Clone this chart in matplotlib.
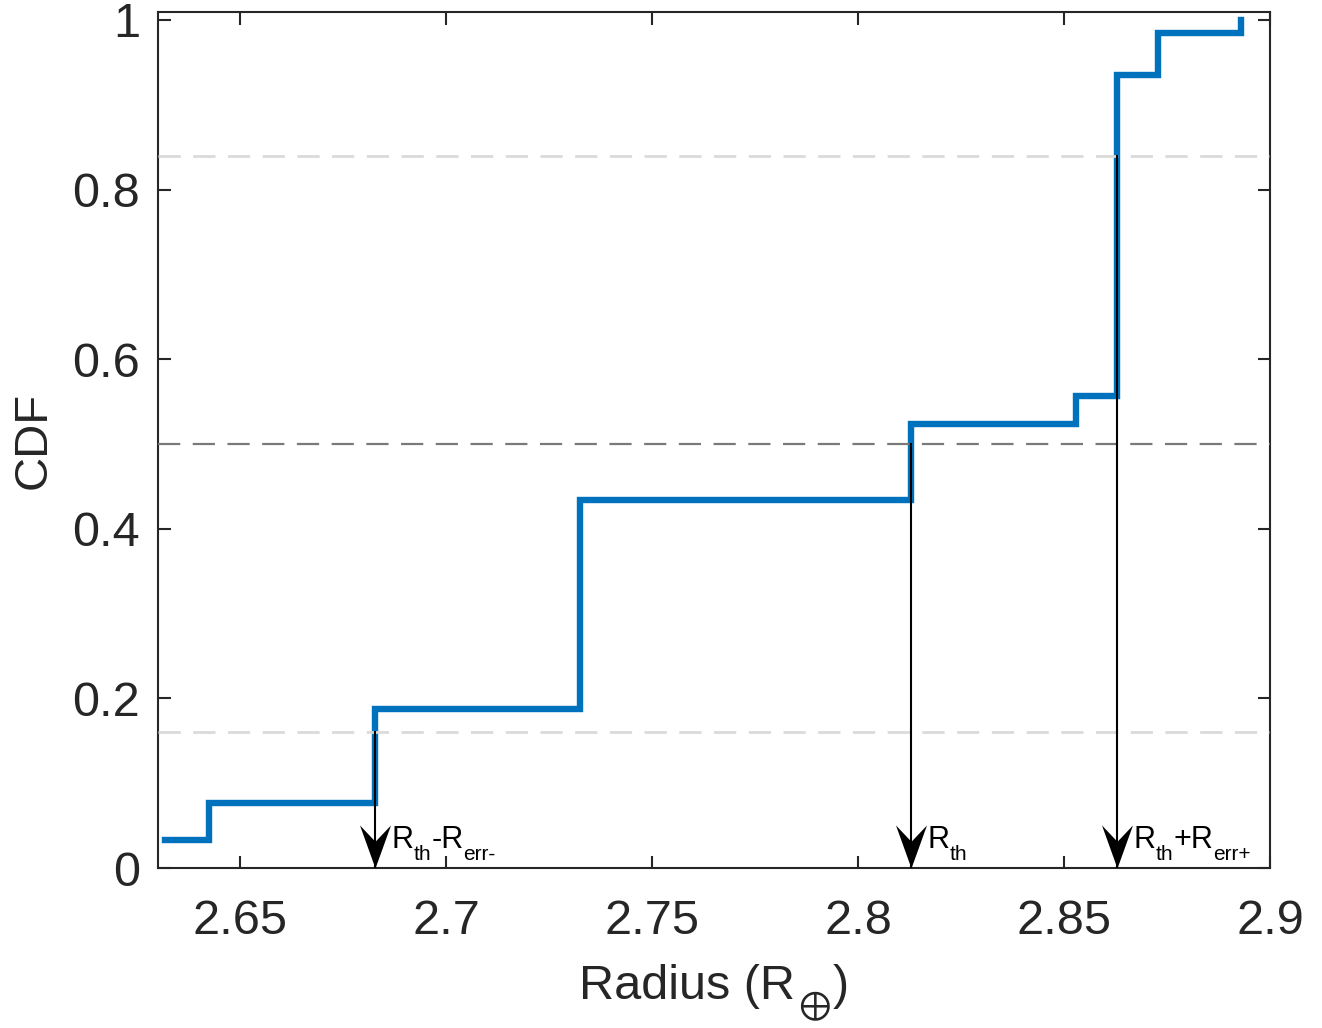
import numpy as np
import matplotlib
matplotlib.use("Agg")
import matplotlib.pyplot as plt
from matplotlib.path import Path

plt.rcParams['font.family'] = ['Liberation Sans', 'DejaVu Sans']
plt.rcParams['lines.scale_dashes'] = False

# step edges (radius) and CDF level on each step
radius_edges = [2.6317, 2.6424, 2.6827, 2.7324, 2.8128, 2.8528, 2.8628, 2.8728, 2.8929]
cdf_levels = [0.033, 0.0767, 0.1875, 0.434, 0.5236, 0.5566, 0.935, 0.985]
cdf_end = 1.0

# reference percentiles
pct_light = [0.16, 0.84]
pct_median = 0.5

# marked radii: R_th - R_err-, R_th, R_th + R_err+
mark_radius = [2.6827, 2.8128, 2.8628]
mark_level = [0.16, 0.5, 0.84]
# (text, subscript?) pieces of each label
mark_labels = [[('R', False), ('th', True), ('-R', False), ('err-', True)],
               [('R', False), ('th', True)],
               [('R', False), ('th', True), ('+R', False), ('err+', True)]]

xticks = [2.65, 2.7, 2.75, 2.8, 2.85, 2.9]
xticklabels = ['2.65', '2.7', '2.75', '2.8', '2.85', '2.9']
yticks = [0, 0.2, 0.4, 0.6, 0.8, 1.0]
yticklabels = ['0', '0.2', '0.4', '0.6', '0.8', '1']

DARK = '#262626'
BLUE = '#0072BD'
FS = 35

fig = plt.figure(figsize=(13.22, 10.28), dpi=100)
ax = fig.add_axes([0.1195, 0.1556, 0.9607 - 0.1195, 0.9883 - 0.1556])
renderer = fig.canvas.get_renderer()
px2pt = 72.0 / fig.dpi


def text_width(s, size):
    t = fig.text(0, 0, s, fontsize=size, math_fontfamily='stix')
    w = t.get_window_extent(renderer).width * px2pt
    t.remove()
    return w


def draw_runs(xy, xycoords, runs, dx, dy, color):
    # runs: (text, size, drop in points, gap after in points)
    for s, size, drop, gap in runs:
        ax.annotate(s, xy=xy, xycoords=xycoords, xytext=(dx, dy - drop),
                    textcoords='offset points', ha='left', va='baseline',
                    fontsize=size, color=color, annotation_clip=False,
                    math_fontfamily='stix')
        dx += text_width(s, size) + gap


# ecdf stairs, closing with a vertical segment up to 1
xs = list(radius_edges) + [radius_edges[-1]]
ys = list(cdf_levels) + [cdf_levels[-1], cdf_end]
ax.step(xs, ys, where='post', color=BLUE, lw=4.6, solid_joinstyle='miter', zorder=2)

for p in pct_light:
    ax.axhline(p, color='#dadada', lw=2.0, dashes=(16, 9), zorder=3)
ax.axhline(pct_median, color='#7a7a7a', lw=1.6, dashes=(16, 9), zorder=3)

# arrow head with notched back, tip at the origin
head = Path([(0, 0), (-0.36, 1.0), (0, 0.62), (0.36, 1.0), (0, 0)],
            [Path.MOVETO, Path.LINETO, Path.LINETO, Path.LINETO, Path.CLOSEPOLY])

for xr, lev, pieces in zip(mark_radius, mark_level, mark_labels):
    ax.plot([xr, xr], [lev, 0], color='k', lw=1.5, zorder=4)
    ax.plot([xr], [0], marker=head, markersize=62, color='k', mec='k', mew=0,
            zorder=5, clip_on=False)
    runs = [(s, 15, 9, 0) if sub else (s, 22, 0, 0) for s, sub in pieces]
    draw_runs((xr, 0), 'data', runs, 12, 14.5, 'k')

ax.set_xlim(2.63, 2.9)
ax.set_ylim(0, 1.0094)
ax.set_xticks(xticks)
ax.set_xticklabels(xticklabels)
ax.set_yticks(yticks)
ax.set_yticklabels(yticklabels)

ax.tick_params(direction='in', length=9, width=1.5, colors=DARK, labelsize=FS,
               top=True, right=True)
ax.tick_params(axis='y', pad=13)
ax.tick_params(axis='x', pad=22)
for s in ax.spines.values():
    s.set_color(DARK)
    s.set_linewidth(1.5)

# x label with a large lowered earth symbol
xl_runs = [('Radius (R', FS, 0, 2), (r'$\oplus$', 28, 13, 1), (')', FS, 0, 0)]
total = sum(text_width(s, size) + gap for s, size, drop, gap in xl_runs)
draw_runs((0.5, 0), 'axes fraction', xl_runs, -total / 2, -94, DARK)

ax.set_ylabel('CDF', fontsize=34, color=DARK, labelpad=12)

fig.savefig('out.png', dpi=100)
